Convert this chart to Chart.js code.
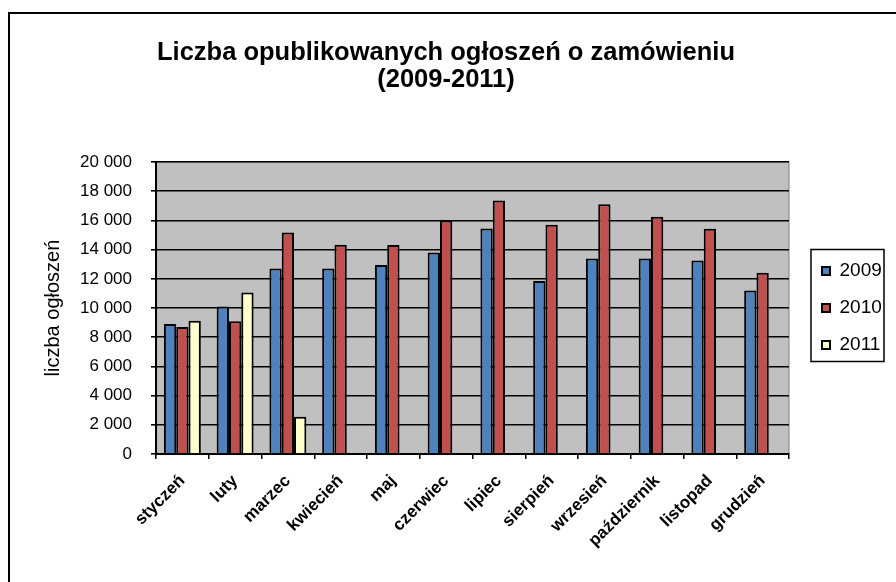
<!DOCTYPE html>
<html lang="pl">
<head>
<meta charset="utf-8">
<title>Liczba opublikowanych ogłoszeń o zamówieniu</title>
<script src="https://cdn.jsdelivr.net/npm/chart.js@4.4.1/dist/chart.umd.min.js"></script>
<style>
    html, body { margin: 0; padding: 0; background: #fff; }
    #wrap { width: 896px; height: 582px; }
</style>
</head>
<body>
<div id="wrap"><canvas id="chart" width="896" height="582"></canvas></div>
<script>
// ---- dane ----
const months = ['styczeń', 'luty', 'marzec', 'kwiecień', 'maj', 'czerwiec', 'lipiec',
    'sierpień', 'wrzesień', 'październik', 'listopad', 'grudzień'];
const seriesNames = ['2009', '2010', '2011'];
const v2009 = [8900, 10100, 12700, 12700, 12950, 13800, 15450, 11850, 13400, 13400, 13250, 11200];
const v2010 = [8700, 9100, 15180, 14330, 14320, 16000, 17370, 15700, 17100, 16250, 15430, 12420];
const v2011 = [9130, 11070, 2560, null, null, null, null, null, null, null, null, null];
const colors = ['#4F81BD', '#C0504D', '#FFFFCC'];
const yMin = 0, yMax = 20000, yStep = 2000;

const FONT = "'Liberation Sans', Arial, Helvetica, sans-serif";
Chart.defaults.font.family = FONT;
Chart.defaults.color = '#000';

// ramka wykresu, tło obszaru kreślenia, ramka legendy
const excelLook = {
    id: 'excelLook',
    beforeLayout(chart) {
        const lg = chart.legend;
        if (lg && !lg._patched) {
            const fit = lg.fit;
            lg.fit = function () { fit.call(this); this.width = 93; };
            lg._patched = true;
        }
    },
    afterLayout(chart) {
        const lg = chart.legend;
        lg.left = 804; lg.right = lg.left + lg.width;
        lg.top += 10; lg.bottom += 10;
    },
    beforeDraw(chart) {
        const { ctx, chartArea: a } = chart;
        ctx.save();
        ctx.fillStyle = '#fff';
        ctx.fillRect(0, 0, chart.width, chart.height);
        ctx.strokeStyle = '#000';
        ctx.lineWidth = 2;
        ctx.strokeRect(9, 13, 1000, 1000);
        ctx.fillStyle = '#C0C0C0';
        ctx.fillRect(a.left, a.top, a.right - a.left, a.bottom - a.top);
        ctx.strokeStyle = '#808080';
        ctx.lineWidth = 1;
        ctx.strokeRect(a.left, a.top, a.right - a.left, a.bottom - a.top);
        ctx.restore();
    },
    afterDraw(chart) {
        const lg = chart.legend;
        const hb = lg.legendHitBoxes;
        if (!hb || !hb.length) return;
        const { ctx } = chart;
        const y0 = hb[0].top - 12;
        const y1 = hb[hb.length - 1].top + hb[hb.length - 1].height + 7;
        ctx.save();
        ctx.strokeStyle = '#000';
        ctx.lineWidth = 1.5;
        ctx.strokeRect(811, y0, 73, y1 - y0);
        ctx.restore();
    }
};

const makeSet = (i, data) => ({
    label: seriesNames[i],
    data: data,
    backgroundColor: colors[i],
    hoverBackgroundColor: colors[i],
    borderColor: '#000',
    hoverBorderColor: '#000',
    borderWidth: 2,
    categoryPercentage: 0.7,
    barPercentage: 1.0
});

new Chart(document.getElementById('chart'), {
    type: 'bar',
    data: {
        labels: months,
        datasets: [makeSet(0, v2009), makeSet(1, v2010), makeSet(2, v2011)]
    },
    options: {
        responsive: false,
        animation: false,
        events: [],
        layout: { padding: { top: 14, left: 10, right: 14, bottom: 0 } },
        plugins: {
            title: {
                display: true,
                text: ['Liczba opublikowanych ogłoszeń o zamówieniu', '(2009-2011)'],
                color: '#000',
                font: { size: 25.5, weight: 'bold', lineHeight: 1.04 },
                padding: { top: 26, bottom: 69 }
            },
            legend: {
                position: 'right',
                labels: {
                    boxWidth: 8, boxHeight: 8, padding: 18,
                    color: '#000',
                    font: { size: 19 }
                }
            },
            tooltip: { enabled: false }
        },
        scales: {
            x: {
                offset: true,
                grid: { offset: true, drawOnChartArea: false, drawTicks: true, tickLength: 5, color: '#000', lineWidth: 1.5 },
                border: { color: '#000', width: 2 },
                ticks: { minRotation: 45, maxRotation: 45, autoSkip: false, padding: 12,
                    font: { size: 17, weight: 'bold' }, color: '#000' },
                afterFit(s) { s.height = 128; }
            },
            y: {
                min: yMin, max: yMax,
                grid: { color: '#000', lineWidth: 1.6, tickLength: 5 },
                border: { color: '#000', width: 2 },
                ticks: {
                    stepSize: yStep, padding: 19, color: '#000', font: { size: 17 },
                    callback: v => String(v).replace(/\B(?=(\d{3})+(?!\d))/g, ' ')
                },
                title: { display: true, text: 'liczba ogłoszeń', color: '#000',
                    font: { size: 20 }, padding: { top: 31, bottom: 0 } },
                afterFit(s) { s.width = 146; }
            }
        }
    },
    plugins: [excelLook]
});
</script>
</body>
</html>
